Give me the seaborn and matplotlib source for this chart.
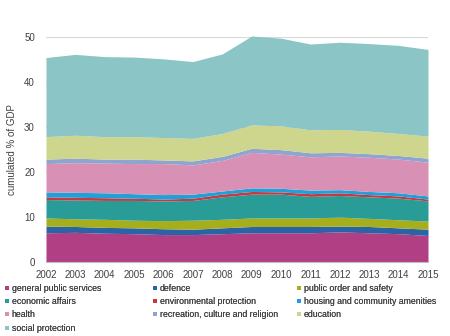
import matplotlib
matplotlib.use("Agg")
import matplotlib.pyplot as plt
import seaborn as sns
import numpy as np
from matplotlib.lines import Line2D

years = [2002, 2003, 2004, 2005, 2006, 2007, 2008, 2009, 2010, 2011, 2012, 2013, 2014, 2015]

general_public_services = [6.5, 6.6, 6.4, 6.3, 6.1, 6.1, 6.3, 6.5, 6.5, 6.5, 6.7, 6.5, 6.3, 5.9]
defence = [1.5, 1.3, 1.3, 1.3, 1.3, 1.2, 1.3, 1.4, 1.4, 1.4, 1.3, 1.4, 1.3, 1.4]
public_order = [1.8, 1.7, 1.8, 1.7, 1.8, 2.0, 1.9, 1.9, 1.9, 1.9, 2.0, 1.8, 1.8, 1.8]
economic_affairs = [4.1, 4.2, 4.2, 4.4, 4.4, 4.4, 5.0, 5.3, 5.3, 4.8, 4.8, 4.8, 4.8, 4.5]
environmental = [0.6, 0.6, 0.6, 0.5, 0.4, 0.5, 0.6, 0.6, 0.5, 0.6, 0.6, 0.5, 0.5, 0.4]
housing = [1.1, 1.1, 1.1, 1.0, 1.0, 0.9, 0.7, 0.8, 0.8, 0.8, 0.7, 0.7, 0.7, 0.7]
health = [6.3, 6.6, 6.6, 6.7, 6.9, 6.5, 6.8, 7.9, 7.6, 7.4, 7.5, 7.6, 7.5, 7.5]
recreation = [1.0, 1.0, 0.9, 1.0, 0.8, 0.9, 0.9, 0.9, 1.0, 0.9, 0.8, 0.8, 0.8, 0.9]
education = [5.0, 5.1, 5.0, 5.0, 5.0, 5.0, 5.1, 5.2, 5.3, 5.1, 5.1, 5.0, 4.9, 4.9]
social_protection = [17.6, 18.0, 17.8, 17.7, 17.5, 17.1, 17.7, 19.8, 19.5, 19.1, 19.4, 19.5, 19.6, 19.3]

labels = ["general public services", "defence", "public order and safety",
          "economic affairs", "environmental protection", "housing and community amenities",
          "health", "recreation, culture and religion", "education", "social protection"]
series = [general_public_services, defence, public_order, economic_affairs, environmental,
          housing, health, recreation, education, social_protection]
colors = ["#b03f84", "#2a63a6", "#a6ae1c", "#2a9c98", "#c8393f", "#1ea0d9",
          "#d890b4", "#8fa4cf", "#ced58c", "#8bc5c5"]
ytick_vals = [0, 10, 20, 30, 40, 50]

sns.set_style("white")
plt.rcParams['font.family'] = ['Liberation Sans', 'DejaVu Sans']

fig = plt.figure(figsize=(4.5, 3.36), dpi=100)
ax = fig.add_axes([46/450, 1-262/336, (428-46)/450, (262-37.3)/336])

polys = ax.stackplot(years, np.array(series), colors=colors, linewidth=0, zorder=2)
for p in polys:
    p.set_clip_on(False)

ax.set_xlim(years[0], years[-1])
ax.set_ylim(0, 50)
ax.set_xticks(years)
ax.set_xticklabels([str(y) for y in years], fontsize=7, color="#404040")
ax.set_yticks(ytick_vals)
ax.set_yticklabels([str(v) for v in ytick_vals], fontsize=7, color="#404040")
ax.tick_params(axis="both", length=0)
ax.tick_params(axis="x", pad=6)
ax.tick_params(axis="y", pad=8)
ax.grid(axis="y", color="#d9d9d9", linewidth=0.8, zorder=0)
ax.set_axisbelow(True)
sns.despine(ax=ax, left=True, top=True, right=True)
ax.spines["bottom"].set_color("#bfbfbf")
ax.spines["bottom"].set_linewidth(0.8)
ax.set_ylabel("cumulated % of GDP", fontsize=7, color="#404040", labelpad=5)

# legend in three fixed-width columns
col_x = [4/450, 152/450, 296/450]
for c in range(3):
    idx = [i for i in range(len(labels)) if i % 3 == c]
    handles = [Line2D([0], [0], marker="s", linestyle="none", markersize=3.2,
                      markerfacecolor=colors[i], markeredgewidth=0) for i in idx]
    leg = fig.legend(handles, [labels[i] for i in idx], loc="upper left",
                     bbox_to_anchor=(col_x[c], 1-284/336), frameon=False,
                     fontsize=6.3, handlelength=0.6, handletextpad=0.3,
                     labelspacing=0.48, borderpad=0, borderaxespad=0,
                     labelcolor="#404040")
    fig.add_artist(leg)

fig.savefig("out.png", dpi=100)
